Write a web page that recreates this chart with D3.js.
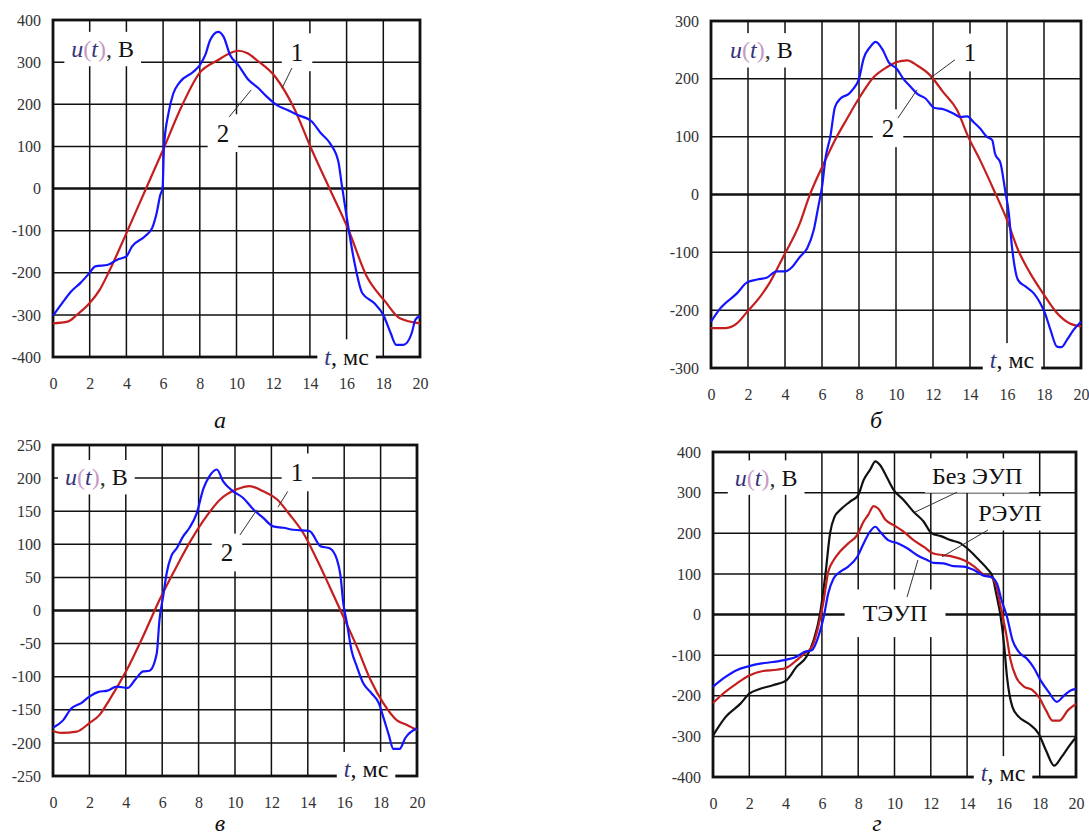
<!DOCTYPE html>
<html>
<head>
<meta charset="utf-8">
<script src="https://cdn.jsdelivr.net/npm/d3@7"></script>
<style>
  body { margin: 0; background: #fff; }
  text { font-family: "Liberation Serif", "Times New Roman", serif; }
</style>
</head>
<body>
<div id="chart"></div>
<script>
// time axis, ms
var xTicks = [0, 2, 4, 6, 8, 10, 12, 14, 16, 18, 20];
var yTicks400 = [-400, -300, -200, -100, 0, 100, 200, 300, 400];
var yTicks300 = [-300, -200, -100, 0, 100, 200, 300];
var yTicks250 = [-250, -200, -150, -100, -50, 0, 50, 100, 150, 200, 250];

// panel a : 1 - red, 2 - blue
var curveA1 = [[0,-320],[0.8,-316],[1.3,-300],[2,-272],[2.55,-240],[3.1,-193],[4,-106],[5,-7],[6,92],[7,194],[8,275],[9,305],[9.5,318],[10.1,327],[10.6,321],[11.1,305],[12.1,266],[13.1,194],[14.1,92],[15.1,-3],[16.1,-98],[17.1,-209],[18.1,-268],[18.9,-308],[20,-320]];
var curveA2 = [[0,-302],[0.5,-272],[1,-244],[1.5,-224],[2,-200],[2.3,-185],[3,-181],[3.5,-169],[4,-161],[4.3,-138],[5,-114],[5.4,-94],[5.65,-58],[5.85,-15],[5.97,0],[6.05,100],[6.3,180],[6.55,225],[6.9,252],[7.65,277],[8,293],[8.3,317],[8.56,352],[9,372],[9.3,360],[9.65,317],[10.1,293],[10.65,258],[11.2,238],[11.65,218],[12.2,198],[12.75,187],[13.3,175],[14.1,159],[14.6,131],[15.1,107],[15.55,64],[15.75,5],[16,-66],[16.4,-169],[16.85,-248],[17.5,-272],[18,-300],[18.4,-343],[18.7,-371],[19.1,-371],[19.55,-343],[19.75,-311],[20,-303]];

// panel б
var curveB1 = [[0,-231],[0.8,-231],[1.4,-223],[1.95,-203],[2.65,-177],[3.2,-151],[3.9,-108],[4.8,-50],[5.3,-4],[6.1,54],[6.7,94],[7.35,131],[8.05,169],[8.8,203],[9.5,220],[10.05,229],[10.6,232],[11.15,223],[11.85,206],[12.55,177],[13.3,146],[13.9,100],[14.55,59],[15.3,7],[16,-44],[16.6,-96],[17.25,-136],[17.95,-171],[18.65,-203],[19.4,-223],[20,-228]];
var curveB2 = [[0,-220],[0.5,-197],[1.4,-171],[1.95,-152],[2.5,-147],[3,-144],[3.55,-133],[4,-133],[4.4,-125],[4.8,-108],[5.2,-93],[5.55,-62],[5.8,-21],[6,13],[6.2,65],[6.45,100],[6.7,151],[7,166],[7.45,174],[7.7,183],[8,200],[8.25,235],[8.6,255],[8.9,264],[9.3,249],[9.6,229],[10.05,217],[10.4,200],[10.8,186],[11.15,174],[11.6,166],[12.05,150],[12.6,147],[13.1,140],[13.5,134],[13.85,135],[14.2,125],[14.55,114],[14.9,100],[15.2,94],[15.35,71],[15.65,54],[15.9,7],[16.1,-33],[16.25,-85],[16.6,-148],[17,-159],[17.45,-171],[17.8,-188],[18.05,-205],[18.35,-234],[18.7,-263],[18.95,-264],[19.25,-251],[19.6,-234],[20,-220]];

// panel в
var curveC1 = [[0,-182],[0.45,-185],[1.3,-183],[2,-170],[2.55,-158],[3.1,-135],[4.05,-90],[4.95,-39],[5.85,16],[6.8,67],[7.6,107],[8.45,143],[9.2,168],[10.1,183],[10.8,188],[11.55,180],[12.3,168],[13,145],[13.75,117],[14.5,77],[15.2,36],[15.95,-9],[16.7,-55],[17.45,-105],[18.15,-140],[18.9,-166],[19.45,-173],[20,-181]];
var curveC2 = [[0,-177],[0.55,-166],[1,-148],[1.55,-140],[2,-130],[2.5,-123],[3,-121],[3.5,-115],[4.1,-117],[4.5,-105],[4.95,-92],[5.3,-91],[5.7,-65],[5.85,-14],[6.05,21],[6.25,57],[6.5,82],[6.8,94],[7.15,112],[7.5,125],[7.9,147],[8.25,183],[8.6,203],[9,213],[9.35,195],[9.9,180],[10.45,170],[11,153],[11.55,140],[12.1,127],[12.65,125],[13.2,122],[14.1,120],[14.7,97],[15.2,94],[15.6,77],[15.8,52],[15.95,11],[16.15,-19],[16.4,-60],[16.7,-85],[17.05,-110],[17.5,-125],[17.9,-140],[18.15,-161],[18.45,-188],[18.7,-209],[19.05,-209],[19.35,-193],[20,-178]];

// panel г : без ЭУП (black), РЭУП (red), ТЭУП (blue)
var curveD0 = [[0,-298],[0.7,-252],[1.5,-220],[2,-195],[2.6,-183],[3.3,-174],[4.05,-162],[4.6,-129],[5.15,-104],[5.55,-63],[5.9,2],[6.2,101],[6.45,200],[6.7,241],[7,257],[7.55,278],[8,294],[8.3,331],[8.65,356],[8.95,377],[9.2,368],[9.6,336],[9.95,307],[10.5,282],[11.05,253],[11.6,229],[12.05,200],[12.55,193],[13.1,183],[13.65,175],[14,163],[14.4,146],[14.75,130],[15.1,113],[15.4,93],[15.6,52],[15.85,-6],[16.05,-80],[16.2,-154],[16.5,-228],[16.85,-252],[17.4,-269],[17.95,-294],[18.35,-335],[18.8,-372],[19.2,-351],[19.65,-322],[20,-302]];
var curveD1 = [[0,-218],[0.55,-195],[1.3,-170],[2,-150],[2.75,-139],[3.5,-136],[4.05,-131],[4.6,-113],[5.05,-96],[5.45,-80],[5.8,-30],[6.1,35],[6.35,105],[6.65,134],[7,155],[7.45,175],[7.95,196],[8.3,229],[8.55,245],[8.85,267],[9.1,261],[9.5,233],[9.95,220],[10.5,204],[11.05,183],[11.6,167],[12.15,150],[12.7,146],[13.25,142],[13.8,134],[14.4,118],[14.95,97],[15.3,93],[15.6,72],[15.85,19],[16.15,-47],[16.4,-113],[16.7,-154],[17.15,-178],[17.6,-186],[17.95,-203],[18.35,-236],[18.7,-261],[19.1,-261],[19.55,-236],[20,-220]];
var curveD2 = [[0,-178],[0.55,-158],[1.3,-137],[2,-127],[2.6,-121],[3.3,-117],[4.05,-111],[4.6,-104],[5.05,-92],[5.45,-88],[5.8,-55],[6.1,-6],[6.35,52],[6.65,89],[7,105],[7.45,118],[7.95,142],[8.3,175],[8.65,204],[8.95,216],[9.2,204],[9.65,183],[10.2,175],[10.7,163],[11.25,146],[11.8,134],[12.15,127],[12.7,126],[13.25,119],[13.8,118],[14.4,109],[14.95,95],[15.3,93],[15.65,76],[15.9,35],[16.2,-6],[16.5,-63],[16.85,-92],[17.3,-109],[17.7,-133],[18.05,-162],[18.5,-191],[18.95,-215],[19.35,-199],[19.7,-187],[20,-183]];

var red = "#c41e1e";
var blue = "#1414ff";
var black = "#111111";

var uParts = [["u", true, "#34347a"], ["(", false, "#c69ac6"], ["t", true, "#34347a"], [")", false, "#c69ac6"], [", ", false, "#333"], ["В", false, "#111"]];
var tParts = [["t", true, "#34347a"], [", мс", false, "#111"]];

var panels = [
  { left: 53, right: 420, top: 20, bottom: 357, yMin: -400, yMax: 400, yTicks: yTicks400,
    series: [[curveA1, red], [curveA2, blue]],
    labels: [
      { parts: uParts, t: 1.0, v: 332, anchor: "start" },
      { text: "1", t: 13.3, v: 324, pad: 9, size: 25 },
      { text: "2", t: 9.26, v: 132, pad: 9, size: 25 },
      { parts: tParts, t: 16.0, v: -398 }
    ],
    leaders: [[[13.02, 286], [12.48, 238]], [[10.8, 234], [9.6, 170]]],
    caption: "а", capX: 220, capY: 428 },
  { left: 711, right: 1081, top: 21, bottom: 368, yMin: -300, yMax: 300, yTicks: yTicks300,
    series: [[curveB1, red], [curveB2, blue]],
    labels: [
      { parts: uParts, t: 1.03, v: 250, anchor: "start" },
      { text: "1", t: 14.0, v: 246, pad: 9, size: 25 },
      { text: "2", t: 9.57, v: 115, pad: 9, size: 25 },
      { parts: tParts, t: 16.27, v: -286 }
    ],
    leaders: [[[13.19, 233], [11.84, 201]], [[11.14, 181], [10.1, 132]]],
    caption: "б", capX: 876, capY: 428 },
  { left: 53, right: 417, top: 445, bottom: 776, yMin: -250, yMax: 250, yTicks: yTicks250,
    series: [[curveC1, red], [curveC2, blue]],
    labels: [
      { parts: uParts, t: 0.66, v: 202, anchor: "start" },
      { text: "1", t: 13.4, v: 209, pad: 9, size: 25 },
      { text: "2", t: 9.56, v: 88, pad: 9, size: 25 },
      { parts: tParts, t: 17.2, v: -239 }
    ],
    leaders: [[[12.9, 180], [12.36, 156]], [[11.2, 152], [10.27, 114]]],
    caption: "в", capX: 220, capY: 831 },
  { left: 713, right: 1076, top: 452, bottom: 777, yMin: -400, yMax: 400, yTicks: yTicks400,
    series: [[curveD0, black], [curveD1, red], [curveD2, blue]],
    labels: [
      { parts: uParts, t: 1.2, v: 338, anchor: "start" },
      { text: "Без ЭУП", t: 14.55, v: 343 },
      { text: "РЭУП", t: 16.36, v: 250 },
      { text: "ТЭУП", t: 10.03, v: 4, pad: 18 },
      { parts: tParts, t: 15.98, v: -390 }
    ],
    leaders: [[[13.44, 301], [11.13, 252]], [[15.15, 208], [12.62, 142]], [[11.29, 134], [10.69, 43]]],
    caption: "г", capX: 877, capY: 831 }
];

var svg = d3.select("#chart")
  .append("svg")
  .attr("width", 1089)
  .attr("height", 840);

function drawPanel(p) {
  var x = d3.scaleLinear().domain([0, 20]).range([p.left, p.right]);
  var y = d3.scaleLinear().domain([p.yMin, p.yMax]).range([p.bottom, p.top]);
  var g = svg.append("g");

  // grid
  g.append("g").selectAll("line")
    .data(xTicks.slice(1, -1))
    .join("line")
    .attr("x1", d => x(d)).attr("x2", d => x(d))
    .attr("y1", p.top).attr("y2", p.bottom)
    .attr("stroke", "#111").attr("stroke-width", 1.5);

  g.append("g").selectAll("line")
    .data(p.yTicks.slice(1, -1))
    .join("line")
    .attr("x1", p.left).attr("x2", p.right)
    .attr("y1", d => y(d)).attr("y2", d => y(d))
    .attr("stroke", "#111")
    .attr("stroke-width", d => d === 0 ? 2.6 : 1.5);

  // frame
  g.append("rect")
    .attr("x", p.left).attr("y", p.top)
    .attr("width", p.right - p.left).attr("height", p.bottom - p.top)
    .attr("fill", "none").attr("stroke", "#111").attr("stroke-width", 2.8);

  // tick labels
  g.append("g")
    .attr("transform", `translate(${p.left - 12}, 0)`)
    .call(d3.axisLeft(y).tickValues(p.yTicks).tickSize(0).tickPadding(0).tickFormat(d => String(d)))
    .call(a => a.select(".domain").remove())
    .attr("font-size", 16)
    .attr("color", "#333");

  g.append("g")
    .attr("transform", `translate(0, ${p.bottom + 21})`)
    .call(d3.axisBottom(x).tickValues(xTicks).tickSize(0).tickPadding(0).tickFormat(d => String(d)))
    .call(a => a.select(".domain").remove())
    .attr("font-size", 16)
    .attr("color", "#333");

  var boxLayer = g.append("g");
  var curveLayer = g.append("g");
  var textLayer = g.append("g");

  var line = d3.line()
    .x(d => x(d[0]))
    .y(d => y(d[1]))
    .curve(d3.curveMonotoneX);

  p.series.forEach(function(s) {
    curveLayer.append("path")
      .datum(s[0])
      .attr("d", line)
      .attr("fill", "none")
      .attr("stroke", s[1])
      .attr("stroke-width", 2.2)
      .attr("stroke-linejoin", "round");
  });

  p.labels.forEach(function(lab) {
    var t = textLayer.append("text")
      .attr("x", x(lab.t)).attr("y", y(lab.v))
      .attr("dy", "0.35em")
      .attr("text-anchor", lab.anchor || "middle")
      .attr("font-size", lab.size || 24)
      .attr("fill", "#111");
    if (lab.parts) {
      lab.parts.forEach(function(pt) {
        t.append("tspan").text(pt[0])
          .attr("font-style", pt[1] ? "italic" : null)
          .attr("fill", pt[2]);
      });
    } else {
      t.text(lab.text);
    }
    var bb = t.node().getBBox();
    var pad = lab.pad || 7;
    boxLayer.append("rect")
      .attr("x", bb.x - pad).attr("y", bb.y - pad * 0.6)
      .attr("width", bb.width + 2 * pad).attr("height", bb.height + pad * 1.2)
      .attr("fill", "#fff");
  });

  textLayer.selectAll(".leader")
    .data(p.leaders)
    .join("line")
    .attr("x1", d => x(d[0][0])).attr("y1", d => y(d[0][1]))
    .attr("x2", d => x(d[1][0])).attr("y2", d => y(d[1][1]))
    .attr("stroke", "#333").attr("stroke-width", 1);

  svg.append("text")
    .attr("x", p.capX).attr("y", p.capY)
    .attr("text-anchor", "middle")
    .attr("font-size", 24)
    .attr("font-style", "italic")
    .attr("fill", "#111")
    .text(p.caption);
}

panels.forEach(drawPanel);
</script>
</body>
</html>
